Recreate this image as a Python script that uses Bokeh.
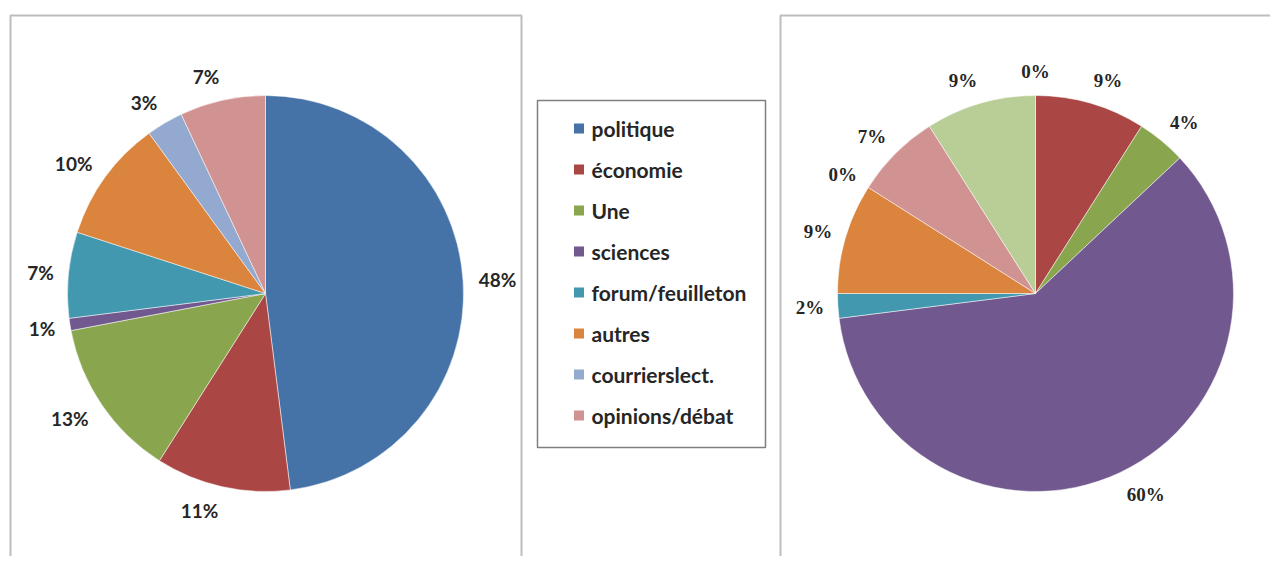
import numpy as np
from bokeh.plotting import figure
from bokeh.models import Range1d
from bokeh.core.properties import value
from bokeh.embed import file_html
from bokeh.resources import INLINE

# ---- data ----
categories = ["politique", "économie", "Une", "sciences", "forum/feuilleton",
              "autres", "courrierslect.", "opinions/débat", ""]
colors = ["#4572A7", "#AA4643", "#89A54E", "#71588F", "#4198AF",
          "#DB843D", "#93A9CF", "#D19392", "#B9CD96"]
left_values = [48, 11, 13, 1, 7, 10, 3, 7, 0]
right_values = [0, 9, 4, 60, 2, 9, 0, 7, 9]
left_show = [True, True, True, True, True, True, True, True, False]
right_show = [True] * 9
legend_items = categories[:8]

W, H = 1270, 556
p = figure(width=W, height=H, output_backend="svg", toolbar_location=None,
           x_range=Range1d(0, W), y_range=Range1d(0, H),
           min_border=0, outline_line_color=None)
p.axis.visible = False
p.grid.visible = False
p.background_fill_color = "white"

def Y(py):
    return H - py

# panel boxes
p.quad(left=[10, 780], right=[521, 1300], top=[Y(15), Y(15)], bottom=[-20, -20],
       fill_color=None, line_color="#BDBDBD", line_width=2)

R = 198

def draw_pie(cx, cy, vals, show, font, style, size):
    vals = np.array(vals, dtype=float)
    fr = vals / vals.sum()
    ends = np.cumsum(fr)
    starts = ends - fr
    sa = np.pi / 2 - 2 * np.pi * starts
    ea = np.pi / 2 - 2 * np.pi * ends
    keep = fr > 0
    p.wedge(x=[cx] * keep.sum(), y=[cy] * keep.sum(), radius=R,
            start_angle=list(sa[keep]), end_angle=list(ea[keep]), direction="clock",
            fill_color=[c for c, k in zip(colors, keep) if k],
            line_color="white", line_alpha=0.5, line_width=1)
    mid = 2 * np.pi * (starts + ends) / 2
    xs, ys, txt = [], [], []
    for m, v, s in zip(mid, vals, show):
        if not s:
            continue
        t = f"{int(round(v))}%"
        hw = 6.5 * len(t)
        sn, cs = np.sin(m), np.cos(m)
        sg = 0 if abs(sn) < 1e-6 else np.sign(sn)
        xs.append(cx + 213 * sn + hw * sg)
        ys.append(cy + 222 * cs)
        txt.append(t)
    p.text(x=xs, y=ys, text=txt, text_align="center", text_baseline="middle",
           text_font=value(font), text_font_size=size, text_font_style=style,
           text_color="#262626")

draw_pie(265, Y(293), left_values, left_show, "Lato", "bold", "19px")
draw_pie(1035, Y(293), right_values, right_show, "Liberation Serif", "bold", "19px")

# legend
p.quad(left=[537], right=[765], top=[Y(100)], bottom=[Y(447)],
       fill_color="white", line_color="#7F7F7F", line_width=1.5)
ly = [Y(128 + 41 * i) for i in range(len(legend_items))]
p.rect(x=[578.5] * len(legend_items), y=ly, width=10, height=10,
       fill_color=colors[:8], line_color=None)
p.text(x=[591] * len(legend_items), y=ly, text=legend_items,
       text_align="left", text_baseline="middle",
       text_font=value("Lato"), text_font_size="21px", text_font_style="bold",
       text_color="#262626")

open("out.html", "w").write(file_html(p, INLINE))
